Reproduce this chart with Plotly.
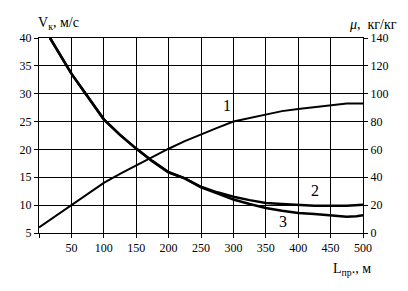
import plotly.graph_objects as go

# Curve 1: mu (right axis), curves 2 and 3: V (left axis)
L1 = [0, 25, 50, 75, 100, 125, 150, 175, 200, 225, 250, 275, 300, 325, 350, 375, 400, 425, 450, 475, 500]
mu1 = [4, 12, 20, 28.5, 36, 42.5, 48.6, 55, 60.5, 66, 71, 75.5, 80, 82.5, 85, 87.5, 89, 90.5, 92, 93, 93]

L2 = [17, 30, 50, 75, 100, 125, 150, 175, 200, 225, 250, 275, 300, 325, 350, 375, 400, 425, 450, 475, 500]
V2 = [40, 37.4, 33.6, 29.5, 25.4, 22.6, 20.15, 17.9, 15.9, 14.8, 13.3, 12.3, 11.5, 10.9, 10.4, 10.2, 10.0, 9.9, 9.9, 9.9, 10.05]

L3 = [17, 30, 50, 75, 100, 125, 150, 175, 200, 225, 250, 275, 300, 325, 350, 375, 400, 425, 450, 475, 490, 500]
V3 = [40, 37.4, 33.6, 29.5, 25.4, 22.6, 20.15, 17.9, 15.9, 14.8, 13.2, 12.1, 11.0, 10.2, 9.5, 9.0, 8.6, 8.4, 8.2, 7.9, 8.0, 8.2]

xticks = [0, 50, 100, 150, 200, 250, 300, 350, 400, 450, 500]
xlabels = ["", "50", "100", "150", "200", "250", "300", "350", "400", "450", "500"]

FONT = "Liberation Serif"

fig = go.Figure()
fig.add_trace(go.Scatter(x=L2, y=V2, mode="lines", line=dict(color="black", width=2.5), showlegend=False))
fig.add_trace(go.Scatter(x=L3, y=V3, mode="lines", line=dict(color="black", width=2.5), showlegend=False))
fig.add_trace(go.Scatter(x=L1, y=mu1, mode="lines", line=dict(color="black", width=2), yaxis="y2", showlegend=False))

fig.update_layout(
    width=408, height=291,
    margin=dict(l=38.5, r=44.7, t=37.7, b=58.3),
    paper_bgcolor="white", plot_bgcolor="white",
    font=dict(family=FONT, size=12, color="black"),
    xaxis=dict(range=[0, 500], tickvals=xticks, ticktext=xlabels, showgrid=True, gridcolor="black", gridwidth=1,
               ticks="outside", ticklen=4, tickcolor="black", showline=True, linecolor="black", linewidth=1,
               mirror=True, zeroline=False, tickfont=dict(family=FONT, size=12)),
    yaxis=dict(range=[5, 40], dtick=5, showgrid=True, gridcolor="black", gridwidth=1,
               ticks="outside", ticklen=4, tickcolor="black", showline=True, linecolor="black", linewidth=1,
               mirror=True, zeroline=False, tickfont=dict(family=FONT, size=12)),
    yaxis2=dict(range=[0, 140], dtick=20, overlaying="y", side="right", showgrid=False,
                ticks="outside", ticklen=4, tickcolor="black", showline=True, linecolor="black", linewidth=1,
                zeroline=False, tickfont=dict(family=FONT, size=12)),
    annotations=[
        dict(text="V<sub>к</sub>, м/с", xref="paper", yref="paper", x=-0.01, y=1.0, xanchor="left", yanchor="bottom",
             yshift=4, showarrow=False, font=dict(family=FONT, size=14)),
        dict(text="<i>μ</i>,  кг/кг", xref="paper", yref="paper", x=1.11, y=1.0, xanchor="right", yanchor="bottom",
             yshift=4, showarrow=False, font=dict(family=FONT, size=14)),
        dict(text="L<sub>пр</sub>., м", xref="paper", yref="paper", x=1.03, y=0, xanchor="right", yanchor="top",
             yshift=-26, showarrow=False, font=dict(family=FONT, size=14)),
        dict(text="1", x=290, y=27.9, xref="x", yref="y", showarrow=False, font=dict(family=FONT, size=16)),
        dict(text="2", x=426, y=12.7, xref="x", yref="y", showarrow=False, font=dict(family=FONT, size=16)),
        dict(text="3", x=377, y=7.15, xref="x", yref="y", showarrow=False, font=dict(family=FONT, size=16)),
    ],
)

fig.write_html("out.html")
